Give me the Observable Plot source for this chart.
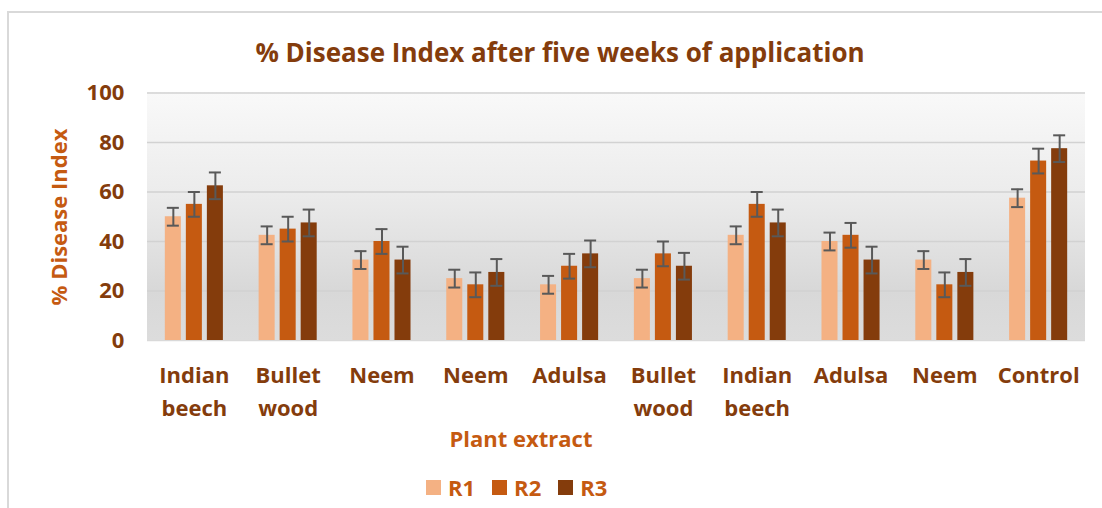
<!DOCTYPE html>
<html>
<head>
<meta charset="utf-8">
<script src="https://cdn.jsdelivr.net/npm/d3@7"></script>
<script src="https://cdn.jsdelivr.net/npm/@observablehq/plot@0.6"></script>
<style>
  html, body { margin: 0; padding: 0; background: #fff; }
  #wrap { position: relative; width: 1102px; height: 508px; overflow: hidden; font-family: "Open Sans", sans-serif; }
  #border { position: absolute; left: 7px; top: 11px; width: 1100px; height: 500px; border-left: 2px solid #d9d9d9; border-top: 2px solid #d9d9d9; }
  #bg { position: absolute; left: 147px; top: 92px; width: 938px; height: 248px;
        background: linear-gradient(to bottom, #f9f9f9 0%, #ececec 40%, #d8d8d8 80%, #dcdcdc 100%); }
  #grid, #plot { position: absolute; left: 0; top: 0; }
  #title { position: absolute; left: 0; width: 1120px; top: 34px; text-align: center; font-weight: 700; font-size: 26px; color: #843C0C; white-space: nowrap; }
  #ytitle { position: absolute; left: 58px; top: 217px; transform: translate(-50%, -50%) rotate(-90deg); font-weight: 700; font-size: 22px; color: #C55A11; white-space: nowrap; }
  #xtitle { position: absolute; left: 521px; top: 423px; transform: translateX(-50%); font-weight: 700; font-size: 22px; color: #C55A11; white-space: nowrap; }
  #legend { position: absolute; left: 426px; top: 472px; display: flex; align-items: center; font-weight: 700; font-size: 22px; color: #C55A11; }
  #legend .item { display: flex; align-items: center; margin-right: 17px; }
  #legend .sw { width: 15px; height: 15px; margin-right: 7px; }
</style>
</head>
<body>
<div id="wrap">
  <div id="border"></div>
  <div id="bg"></div>
  <div id="grid"></div>
  <div id="plot"></div>
  <div id="title"></div>
  <div id="ytitle"></div>
  <div id="xtitle"></div>
  <div id="legend"></div>
</div>
<script>
const titleText = "% Disease Index after five weeks of application";
const yTitle = "% Disease Index";
const xTitle = "Plant extract";
const categories = ["Indian\nbeech", "Bullet\nwood", "Neem", "Neem", "Adulsa", "Bullet\nwood", "Indian\nbeech", "Adulsa", "Neem", "Control"];
const series = ["R1", "R2", "R3"];
const r1 = [50, 42.5, 32.5, 25, 22.5, 25, 42.5, 40, 32.5, 57.5];
const r2 = [55, 45, 40, 22.5, 30, 35, 55, 42.5, 22.5, 72.5];
const r3 = [62.5, 47.5, 32.5, 27.5, 35, 30, 47.5, 32.5, 27.5, 77.5];
const seriesError = [3.6, 5.0, 5.4];
const yTicks = [0, 20, 40, 60, 80, 100];
const colors = ["#F4B183", "#C55A11", "#843C0C"];

const values = [r1, r2, r3];
const rows = [];
categories.forEach((c, g) => {
  series.forEach((s, k) => {
    rows.push({g, s, v: values[k][g], e: seriesError[k]});
  });
});

document.getElementById("title").textContent = titleText;
document.getElementById("ytitle").textContent = yTitle;
document.getElementById("xtitle").textContent = xTitle;
const legend = document.getElementById("legend");
series.forEach((s, k) => {
  const it = document.createElement("div");
  it.className = "item";
  const sw = document.createElement("div");
  sw.className = "sw";
  sw.style.background = colors[k];
  const t = document.createElement("span");
  t.textContent = s;
  it.appendChild(sw); it.appendChild(t);
  legend.appendChild(it);
});

const dims = { width: 1102, height: 508, marginTop: 92.5, marginBottom: 168, marginLeft: 147, marginRight: 17 };

// continuous gridlines layer (shares the same y scale)
const grid = Plot.plot({
  ...dims,
  style: { background: "transparent" },
  x: { axis: null },
  y: { domain: [0, 100], axis: null },
  marks: [
    Plot.ruleY(yTicks.filter(d => d > 0), { stroke: "#d2d2d2", strokeWidth: 1.5 }),
    Plot.ruleY([0], { stroke: "#d9d9d9", strokeWidth: 1.5 })
  ]
});
document.getElementById("grid").appendChild(grid);

const chart = Plot.plot({
  ...dims,
  style: { background: "transparent", fontFamily: "Open Sans, sans-serif" },
  fx: { domain: d3.range(categories.length), paddingInner: 0.381, paddingOuter: 0.19, round: false },
  x: { domain: series, paddingInner: 0.238, paddingOuter: 0, round: false, axis: null },
  y: { domain: [0, 100], axis: null },
  color: { domain: series, range: colors },
  marks: [
    Plot.barY(rows, { fx: "g", x: "s", y: "v", fill: "s" }),
    Plot.ruleX(rows, { fx: "g", x: "s", y1: d => d.v - d.e, y2: d => d.v + d.e, stroke: "#595959", strokeWidth: 2 }),
    Plot.tickY(rows, { fx: "g", x: "s", y: d => d.v + d.e, stroke: "#595959", strokeWidth: 2, insetLeft: 2, insetRight: 2 }),
    Plot.tickY(rows, { fx: "g", x: "s", y: d => d.v - d.e, stroke: "#595959", strokeWidth: 2, insetLeft: 2, insetRight: 2 }),
    Plot.axisY({ ticks: yTicks, tickSize: 0, tickPadding: 25, dx: -16, fontSize: 22, fontWeight: "bold", fill: "#843C0C", label: null }),
    Plot.axisFx({ anchor: "bottom", tickSize: 0, tickPadding: 19, tickFormat: i => categories[i], fontSize: 22, fontWeight: "bold", fill: "#843C0C", lineHeight: 1.5, label: null })
  ]
});
document.getElementById("plot").appendChild(chart);
</script>
</body>
</html>
